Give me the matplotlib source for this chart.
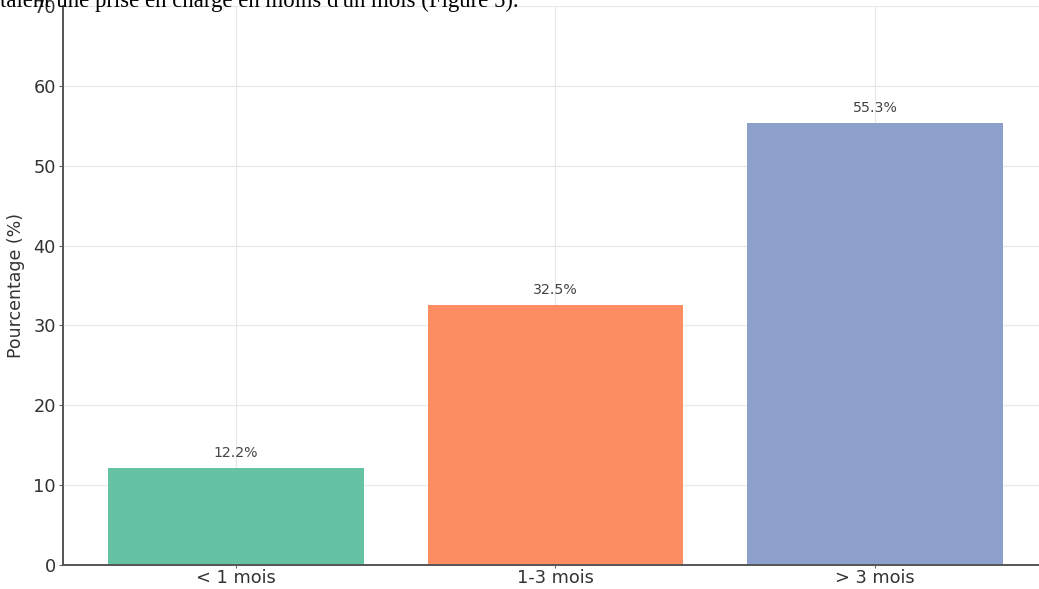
import matplotlib.pyplot as plt

categories = ['< 1 mois', '1-3 mois', '> 3 mois']
valeurs = [12.2, 32.5, 55.3]
couleurs = ['#66c2a5', '#fc8d62', '#8da0cb']
texte_haut = "taient une prise en charge en moins d'un mois (Figure 5)."

fig = plt.figure(figsize=(10.39, 5.89), dpi=100)
ax = fig.add_axes([63 / 1039, 24 / 589, (1048 - 63) / 1039, (589 - 6 - 24) / 589])

ax.bar(categories, valeurs, color=couleurs, width=0.8, zorder=2)
for i, v in enumerate(valeurs):
    ax.text(i, v + 1, f"{v}%", ha='center', va='bottom', fontsize=10.2, color='#444444')

ax.set_ylim(0, 70)
ax.set_ylabel('Pourcentage (%)', fontsize=12.5, color='#333333', labelpad=6)
ax.tick_params(labelsize=12.8, labelcolor='#333333', color='#666666')
ax.tick_params(axis='x', length=2, pad=1)
ax.tick_params(axis='y', length=3, pad=2)
ax.grid(True, color='#e8e8e8', linewidth=0.9, zorder=0)
ax.set_axisbelow(True)
for s in ['top', 'right']:
    ax.spines[s].set_visible(False)
for s in ['left', 'bottom']:
    ax.spines[s].set_color('#555555')
    ax.spines[s].set_linewidth(1.4)

fig.text(0.0, 582 / 589, texte_haut, family='Liberation Serif', fontsize=16.4,
         va='baseline', ha='left', color='black')

fig.savefig('out.png', dpi=100)
